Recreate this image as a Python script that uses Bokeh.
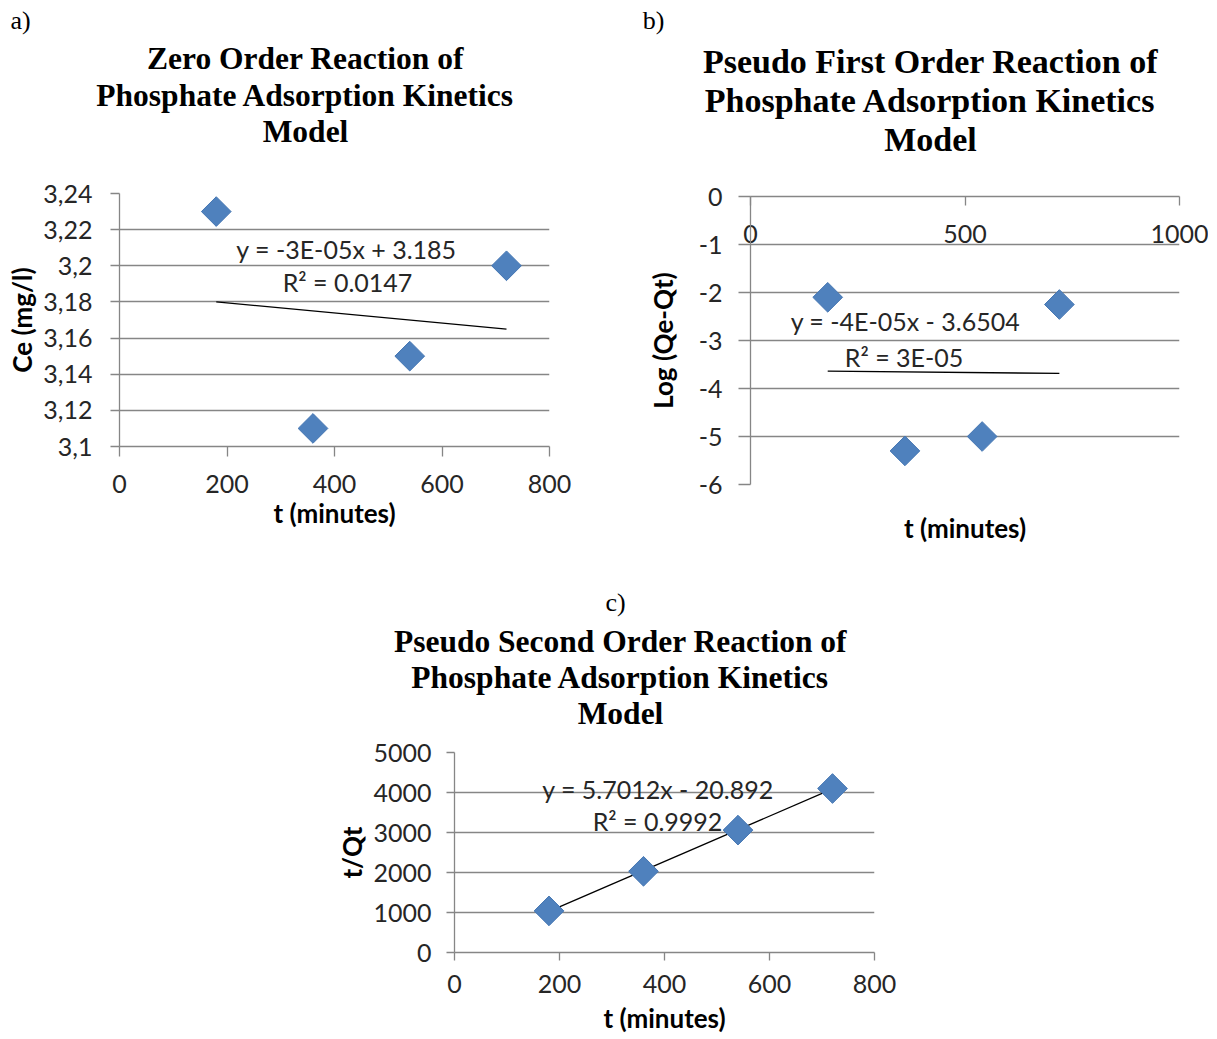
import numpy as np
from bokeh.plotting import figure
from bokeh.layouts import column, row
from bokeh.models import FixedTicker, CustomJSTickFormatter, Label, LinearAxis, Range1d
from bokeh.embed import file_html
from bokeh.resources import INLINE

# ---------------- data ----------------
t_minutes = [180, 360, 540, 720]
ce_zero_order = [3.23, 3.11, 3.15, 3.20]
log_qe_qt = [-2.10, -5.30, -5.00, -2.25]
t_over_qt = [1040, 2030, 3060, 4100]

a_x_ticks = [0, 200, 400, 600, 800]
a_x_labels = ["0", "200", "400", "600", "800"]
a_y_ticks = [3.10, 3.12, 3.14, 3.16, 3.18, 3.20, 3.22, 3.24]
a_y_labels = ["3,1", "3,12", "3,14", "3,16", "3,18", "3,2", "3,22", "3,24"]

b_x_ticks = [0, 500, 1000]
b_x_labels = ["0", "500", "1000"]
b_y_ticks = [0, -1, -2, -3, -4, -5, -6]
b_y_labels = ["0", "-1", "-2", "-3", "-4", "-5", "-6"]

c_x_ticks = [0, 200, 400, 600, 800]
c_x_labels = ["0", "200", "400", "600", "800"]
c_y_ticks = [0, 1000, 2000, 3000, 4000, 5000]
c_y_labels = ["0", "1000", "2000", "3000", "4000", "5000"]

a_title = ["Zero Order Reaction of", "Phosphate Adsorption Kinetics", "Model"]
b_title = ["Pseudo First Order Reaction of", "Phosphate Adsorption Kinetics", "Model"]
c_title = ["Pseudo Second Order Reaction of", "Phosphate Adsorption Kinetics", "Model"]
a_eq = ["y = -3E-05x + 3.185", "R\u00b2 = 0.0147"]
b_eq = ["y = -4E-05x - 3.6504", "R\u00b2 = 3E-05"]
c_eq = ["y = 5.7012x - 20.892", "R\u00b2 = 0.9992"]

# ---------------- style ----------------
GRID = "#868686"
TXT = "#262626"
BLUE = "#4F81BD"
SANS = "Lato"
SERIF = "Liberation Serif"
TICK_FS = "25px"
AXT_FS = "26px"
EQ_FS = "25px"


def fmt(ticks, labels):
    return CustomJSTickFormatter(args=dict(vals=list(ticks), labs=list(labels)), code="""
        for (let i = 0; i < vals.length; i++) {
            if (Math.abs(vals[i] - tick) < 1e-9) { return labs[i]; }
        }
        return "";
    """)


def style_axis(ax, ticks, labels, tick_out, standoff):
    ax.ticker = FixedTicker(ticks=ticks)
    ax.formatter = fmt(ticks, labels)
    ax.axis_line_color = GRID
    ax.axis_line_width = 1.3
    ax.major_tick_line_color = GRID
    ax.major_tick_line_width = 1.3
    ax.minor_tick_line_color = None
    ax.major_tick_in = 0
    ax.major_tick_out = tick_out
    ax.major_label_standoff = standoff
    ax.major_label_text_font = SANS
    ax.major_label_text_font_size = TICK_FS
    ax.major_label_text_color = TXT
    ax.axis_label_text_font = SANS
    ax.axis_label_text_font_style = "bold"
    ax.axis_label_text_font_size = AXT_FS
    ax.axis_label_text_color = "#000000"


def make_fig(w, h, xr, yr, left, right, top, bottom, **kw):
    p = figure(width=w, height=h, x_range=Range1d(*xr), y_range=Range1d(*yr),
               output_backend="svg", toolbar_location=None, title=None,
               min_border_left=left, min_border_right=right,
               min_border_top=top, min_border_bottom=bottom, **kw)
    p.frame_align = False
    p.outline_line_color = None
    p.background_fill_color = "white"
    p.border_fill_color = "white"
    p.xgrid.visible = False
    p.ygrid.grid_line_color = GRID
    p.ygrid.grid_line_width = 1.3
    return p


def make_header(x0, x1, y0, y1):
    # page-pixel coordinate system: x to the right, y downwards
    h = figure(width=x1 - x0, height=y1 - y0, x_range=Range1d(x0, x1), y_range=Range1d(y1, y0),
               output_backend="svg", toolbar_location=None, title=None,
               x_axis_location=None, y_axis_location=None,
               min_border_left=0, min_border_right=0, min_border_top=0, min_border_bottom=0)
    h.frame_align = False
    h.outline_line_color = None
    h.grid.visible = False
    return h


def px2data(frame, px, py):
    L, R, T, B, x0, x1, y0, y1 = frame
    x = x0 + (px - L) / (R - L) * (x1 - x0)
    y = y1 - (py - T) / (B - T) * (y1 - y0)
    return x, y


def add_label(p, x, y, text, font, size, style="normal", color=TXT):
    p.add_layout(Label(x=x, y=y, text=text, text_align="center", text_baseline="middle",
                       text_font=font, text_font_size=size, text_font_style=style,
                       text_color=color))


def add_text(p, frame, px, py, text, font, size, style="normal", color=TXT):
    x, y = px2data(frame, px, py)
    add_label(p, x, y, text, font, size, style, color)


def add_points_and_trend(p, xs, ys):
    coef = np.polyfit(xs, ys, 1)
    tx = np.array([min(xs), max(xs)], dtype=float)
    p.line(tx, np.polyval(coef, tx), line_color="black", line_width=1.3)
    p.scatter(xs, ys, marker="square", angle=np.pi / 4, size=21,
              fill_color=BLUE, line_color="#4677B3", line_width=1)


H1 = 165   # header height of the first row
ROW1 = 548
H2 = 182
TOTAL = 1038

# ---------------- panel a ----------------
ha = make_header(0, 603, 0, H1)
add_label(ha, 20, 20, "a)", SERIF, "26px", color="#000000")
for ty, line in zip([58, 94.5, 131], a_title):
    add_label(ha, 305, ty, line, SERIF, "31.5px", style="bold", color="#000000")

fa = (119, 549, 193, 446, 0, 800, 3.10, 3.24)
pa = make_fig(603, ROW1 - H1, (0, 800), (3.10, 3.24), 119, 54, 193 - H1, ROW1 - 446)
pa.ygrid.ticker = FixedTicker(ticks=a_y_ticks)
style_axis(pa.xaxis[0], a_x_ticks, a_x_labels, 10, 18)
style_axis(pa.yaxis[0], a_y_ticks, a_y_labels, 9, 18)
pa.xaxis[0].axis_label = "t (minutes)"
pa.xaxis[0].axis_label_standoff = 1
pa.yaxis[0].axis_label = "Ce (mg/l)"
pa.yaxis[0].axis_label_standoff = 2
add_points_and_trend(pa, t_minutes, ce_zero_order)
add_text(pa, fa, 346, 248.5, a_eq[0], SANS, EQ_FS)
add_text(pa, fa, 347, 281, a_eq[1], SANS, EQ_FS)

# ---------------- panel b ----------------
hb = make_header(603, 1208, 0, H1)
add_label(hb, 653, 20, "b)", SERIF, "26px", color="#000000")
for ty, line in zip([61, 100, 139], b_title):
    add_label(hb, 930, ty, line, SERIF, "34px", style="bold", color="#000000")

fb = (750, 1179, 196, 484, 0, 1000, -6, 0)
pb = make_fig(605, ROW1 - H1, (0, 1000), (-6, 0), 750 - 603, 1208 - 1179, 196 - H1, ROW1 - 484,
              x_axis_location="above")
pb.ygrid.ticker = FixedTicker(ticks=b_y_ticks)
style_axis(pb.xaxis[0], b_x_ticks, b_x_labels, 0, -46)
pb.xaxis[0].major_tick_in = 9
style_axis(pb.yaxis[0], b_y_ticks, b_y_labels, 12, 16)
pb.yaxis[0].axis_label = "Log (Qe-Qt)"
pb.yaxis[0].axis_label_standoff = 17
bottom_axis = LinearAxis(ticker=FixedTicker(ticks=[]), axis_line_color=None,
                         major_tick_out=0, major_tick_in=0, minor_tick_line_color=None,
                         axis_label="t (minutes)", axis_label_standoff=27,
                         axis_label_text_font=SANS, axis_label_text_font_style="bold",
                         axis_label_text_font_size=AXT_FS, axis_label_text_color="#000000")
pb.add_layout(bottom_axis, "below")
add_points_and_trend(pb, t_minutes, log_qe_qt)
add_text(pb, fb, 905, 320, b_eq[0], SANS, EQ_FS)
add_text(pb, fb, 903.5, 356, b_eq[1], SANS, EQ_FS)

# ---------------- panel c ----------------
hc = make_header(0, 1208, ROW1, ROW1 + H2)
add_label(hc, 615, 602, "c)", SERIF, "26px", color="#000000")
for ty, line in zip([641, 677, 713], c_title):
    add_label(hc, 620, ty, line, SERIF, "31.5px", style="bold", color="#000000")

fc = (454, 874, 752, 952, 0, 800, 0, 5000)
pc = make_fig(1208, TOTAL - ROW1 - H2, (0, 800), (0, 5000), 454, 1208 - 874,
              752 - ROW1 - H2, TOTAL - 952)
pc.ygrid.ticker = FixedTicker(ticks=c_y_ticks)
style_axis(pc.xaxis[0], c_x_ticks, c_x_labels, 8, 14)
style_axis(pc.yaxis[0], c_y_ticks, c_y_labels, 8, 15)
pc.xaxis[0].axis_label = "t (minutes)"
pc.xaxis[0].axis_label_standoff = 6
pc.yaxis[0].axis_label = "t/Qt"
pc.yaxis[0].axis_label_standoff = 2
add_points_and_trend(pc, t_minutes, t_over_qt)
add_text(pc, fc, 657.5, 788, c_eq[0], SANS, EQ_FS)
add_text(pc, fc, 657, 820, c_eq[1], SANS, EQ_FS)

layout = column(row(column(ha, pa), column(hb, pb)), column(hc, pc))
open("out.html", "w").write(file_html(layout, INLINE))
